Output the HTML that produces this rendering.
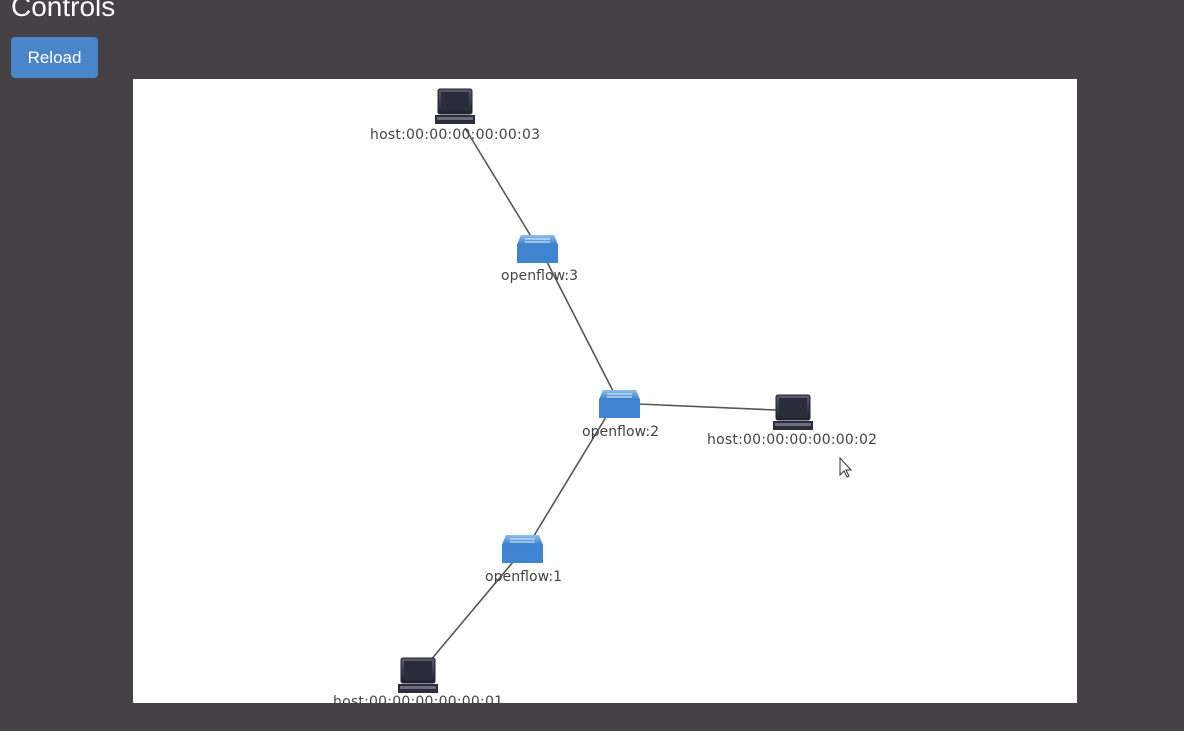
<!DOCTYPE html>
<html><head><meta charset="utf-8"><style>
body{margin:0;width:1184px;height:731px;background:#464145;overflow:hidden;font-family:"Liberation Sans",sans-serif;position:relative}
h1{position:absolute;left:11px;top:-9px;margin:0;font-weight:normal;font-size:28px;color:#fff}
.btn{position:absolute;left:11px;top:37px;width:87px;height:41px;background:#4a84c9;border-radius:4px;color:#fff;font-size:17px;line-height:41px;text-align:center}
.cv{position:absolute;left:133px;top:79px;width:944px;height:624px;background:#fff}
svg{position:absolute;left:0;top:0}
</style></head><body>
<h1>Controls</h1>
<div class="btn">Reload</div>
<div class="cv"></div>
<svg width="1184" height="731">
<defs>
<linearGradient id="sw" x1="0" y1="0" x2="0" y2="1"><stop offset="0" stop-color="#8ec0f0"/><stop offset="1" stop-color="#3a7cc8"/></linearGradient>
<linearGradient id="lp" x1="0" y1="0" x2="0" y2="1"><stop offset="0" stop-color="#5a5d70"/><stop offset="1" stop-color="#1e2030"/></linearGradient>
<g id="laptop"><rect x="3" y="0" width="34" height="25" rx="2" fill="url(#lp)" stroke="#222"/><rect x="6" y="3" width="28" height="19" fill="#2a2c3a"/><path d="M0 26 H40 V35 H0 Z" fill="#2b2d3b"/><rect x="2" y="28" width="36" height="3" fill="#6a6d80"/></g>
<g id="switch"><path d="M4 0 H37 L41 10 V28 H0 V10 Z" fill="#3f84d0"/><path d="M4 0 H37 L41 10 H0 Z" fill="url(#sw)"/><path d="M8 4 H33 M8 7 H33" stroke="#e8f2ff" stroke-width="1"/></g>
</defs>
<g stroke="#555" stroke-width="1.6" fill="none">
<line x1="465" y1="128" x2="532" y2="238"/>
<line x1="545" y1="258" x2="614" y2="393"/>
<line x1="638" y1="404" x2="776" y2="410"/>
<line x1="606" y1="417" x2="532" y2="539"/>
<line x1="513" y1="562" x2="430" y2="661"/>
</g>
<use href="#laptop" x="435" y="89"/>
<use href="#switch" x="517" y="235"/>
<use href="#switch" x="599" y="390"/>
<use href="#laptop" x="773" y="395"/>
<use href="#switch" x="502" y="535"/>
<use href="#laptop" x="398" y="658"/>
<g font-family="DejaVu Sans, sans-serif" font-size="14" fill="#444">
<text x="370" y="139" textLength="170">host:00:00:00:00:00:03</text>
<text x="501" y="280" textLength="77">openflow:3</text>
<text x="582" y="436" textLength="77">openflow:2</text>
<text x="707" y="444" textLength="170">host:00:00:00:00:00:02</text>
<text x="485" y="581" textLength="77">openflow:1</text>
<text x="333" y="706" textLength="170">host:00:00:00:00:00:01</text>
</g>
<path d="M840 458 V475 L844 471 L847 477 L849 476 L846 470 L851 470 Z" fill="#fff" stroke="#333"/>
<rect x="0" y="703" width="1184" height="28" fill="#464145"/>
</svg>
</body></html>
